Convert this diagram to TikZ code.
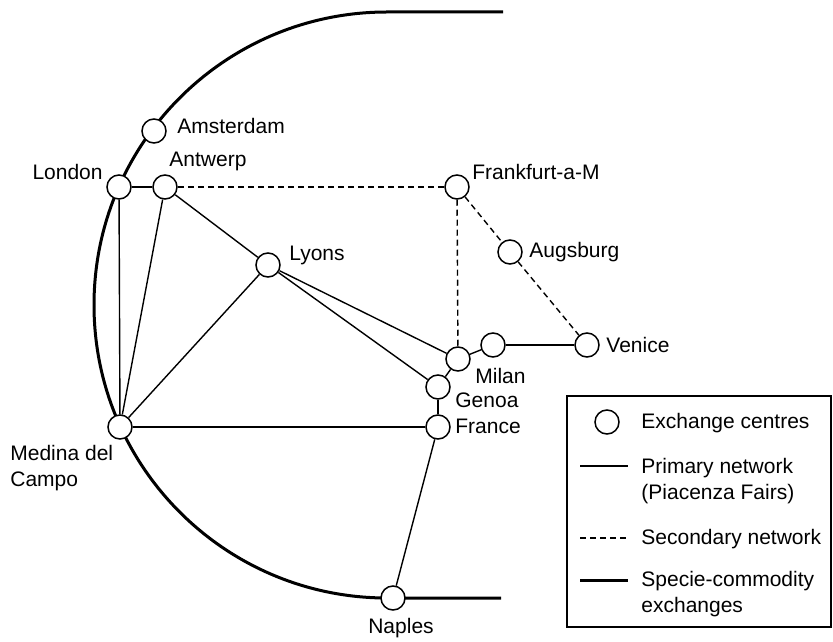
\documentclass[tikz,border=0pt]{standalone}
\usepackage{fontspec}
\setmainfont{Liberation Sans}
\begin{document}
\begin{tikzpicture}[x=0.5pt,y=-0.5pt,
  centre/.style={circle,draw,fill=white,line width=0.75pt,minimum size=12pt,inner sep=0pt},
  primary/.style={line width=0.7pt},
  secondary/.style={line width=0.7pt,dash pattern=on 3pt off 2pt},
  specie/.style={line width=1.5pt},
  lbl/.style={inner sep=0pt,font=\fontsize{10.5}{13}\selectfont},
]
\useasboundingbox (0,0) rectangle (833,641);
% specie-commodity arc
\draw[specie] (503,12) -- (387,12) arc[start angle=270,end angle=90,radius=293] -- (501,598);
% centres
\node[centre] (ams) at (154,131) {};
\node[centre] (lon) at (119,187) {};
\node[centre] (ant) at (165,187) {};
\node[centre] (fra) at (457,187) {};
\node[centre] (aug) at (510,252) {};
\node[centre] (lyo) at (268,265) {};
\node[centre] (mil) at (458,359) {};
\node[centre] (mv)  at (493,345) {};
\node[centre] (ven) at (587,345) {};
\node[centre] (gen) at (438,387) {};
\node[centre] (frc) at (438,427) {};
\node[centre] (med) at (120,427) {};
\node[centre] (nap) at (393,598) {};
% primary network
\draw[primary] (lon) -- (ant);
\draw[primary] (lon) -- (med);
\draw[primary] (ant) -- (med);
\draw[primary] (ant) -- (lyo);
\draw[primary] (lyo) -- (med);
\draw[primary] (lyo) -- (mil);
\draw[primary] (lyo) -- (gen);
\draw[primary] (med) -- (frc);
\draw[primary] (frc) -- (gen);
\draw[primary] (gen) -- (mil);
\draw[primary] (mil) -- (mv);
\draw[primary] (frc) -- (nap);
\draw[line width=1.2pt] (mv) -- (ven);
% secondary network
\draw[secondary] (ant) -- (fra);
\draw[secondary] (fra) -- (mil);
\draw[secondary] (fra) -- (aug);
\draw[secondary] (aug) -- (ven);
% labels
\node[lbl,anchor=mid west] (tams) at (177,128) {Amsterdam};
\node[lbl,anchor=mid east] (tlon) at (103,174) {London};
\node[lbl,anchor=mid west] (tant) at (169,161) {Antwerp};
\node[lbl,anchor=mid west] (tfra) at (472,174) {Frankfurt-a-M};
\node[lbl,anchor=mid west] (taug) at (529,252) {Augsburg};
\node[lbl,anchor=mid west] (tlyo) at (289,255) {Lyons};
\node[lbl,anchor=mid west] (tmil) at (475,378) {Milan};
\node[lbl,anchor=mid west] (tgen) at (455,402) {Genoa};
\node[lbl,anchor=mid west] (tfrc) at (455,428) {France};
\node[lbl,anchor=mid west] (tven) at (606,347) {Venice};
\node[lbl,anchor=north west,align=left] (tmed) at (10,445) {Medina del\\Campo};
\node[lbl,anchor=mid] (tnap) at (401,628) {Naples};
% legend
\draw[line width=0.75pt] (567,396) rectangle (831,627);
\node[centre] (legc) at (607,422) {};
\node[lbl,anchor=mid west] (lt1) at (641,423) {Exchange centres};
\coordinate (l1a) at (580,466); \coordinate (l1b) at (628,466);
\draw[primary] (l1a) -- (l1b);
\node[lbl,anchor=north west,align=left] (lt2) at (641,458) {Primary network\\(Piacenza Fairs)};
\coordinate (l2a) at (580,538); \coordinate (l2b) at (628,538);
\draw[secondary] (l2a) -- (l2b);
\node[lbl,anchor=mid west] (lt3) at (641,539) {Secondary network};
\coordinate (l3a) at (580,580); \coordinate (l3b) at (628,580);
\draw[specie] (l3a) -- (l3b);
\node[lbl,anchor=north west,align=left] (lt4) at (641,571) {Specie-commodity\\exchanges};
\end{tikzpicture}
\end{document}
